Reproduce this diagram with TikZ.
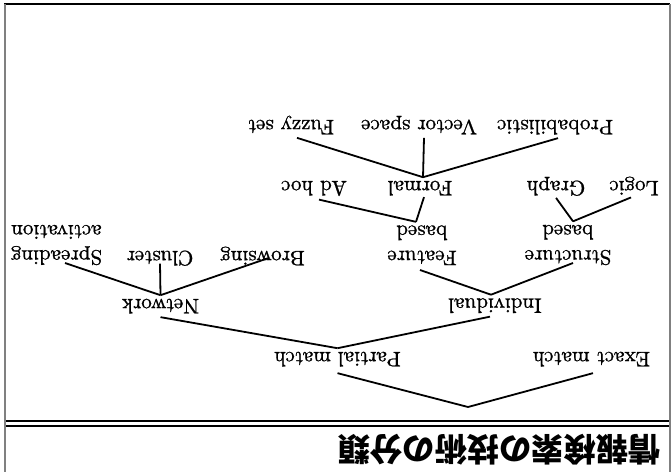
\documentclass[tikz,border=0pt]{standalone}
\usepackage{fontspec}
\newfontfamily\cjkfont{Noto Sans CJK JP}
\newfontfamily\lblfont{Latin Modern Roman}[FakeBold=1]
\begin{document}
\begin{tikzpicture}[x=1pt,y=-1pt,
  lbl/.style={rotate=180, scale=2.1, inner xsep=0pt, inner ysep=1.5pt, font=\normalsize\lblfont},
  lbltwo/.style={lbl, align=center},
  branch/.style={line width=1.8pt},
  framegray/.style={draw=gray, line width=2pt},
  frameblack/.style={draw=black, line width=1.4pt}]
\useasboundingbox (0,0) rectangle (671,472);
% frame
\path[frameblack] (4,4) -- (670,4);
\path[frameblack] (4,421) -- (670,421);
\path[frameblack] (4,426) -- (670,426);
\path[framegray] (4.5,4) -- (4.5,472);
\path[framegray] (669.5,4) -- (669.5,472);
% title
\node[rotate=180, anchor=west, inner sep=0pt,
  font=\fontsize{32.3}{38}\selectfont\cjkfont\bfseries] (ttl) at (661,450) {情報検索の技術の分類};
% labels
\node[lbl, anchor=base] (ex) at (591.5,352) {Exact match};
\node[lbl, anchor=base] (pm) at (337.5,352) {Partial match};
\node[lbl, anchor=base] (nw) at (160.5,299) {Network};
\node[lbl, anchor=base] (ind) at (495,298.5) {Individual};
\node[lbltwo, anchor=north] (spr) at (56.5,268.7) {Spreading\\activation};
\node[lbl, anchor=base] (clu) at (160,251) {Cluster};
\node[lbl, anchor=base] (bro) at (262.5,251) {Browsing};
\node[lbltwo, anchor=north] (fb) at (422,268.7) {Feature\\based};
\node[lbltwo, anchor=north] (sb) at (568,268.7) {Structure\\based};
\node[lbl, anchor=base] (adh) at (314,181) {Ad hoc};
\node[lbl, anchor=base] (frm) at (420,181) {Formal};
\node[lbl, anchor=base] (grp) at (556,181) {Graph};
\node[lbl, anchor=base] (lgc) at (634,181) {Logic};
\node[lbl, anchor=base] (fuz) at (291,120) {Fuzzy set};
\node[lbl, anchor=base] (vec) at (419,120) {Vector space};
\node[lbl, anchor=base] (prb) at (555,120) {Probabilistic};
\coordinate (root) at (468,407);
% branches
\draw[branch] (root) -- ([xshift=1.5pt,yshift=-3pt]ex.north);
\draw[branch] (root) -- ([yshift=-3pt]pm.north);
\draw[branch] (pm.south) -- (nw.north);
\draw[branch] (pm.south) -- ([xshift=-5pt]ind.north);
\draw[branch] (nw.south) -- ([xshift=8.5pt,yshift=5.7pt]spr.north);
\draw[branch] (nw.south) -- ([yshift=5.7pt]clu.north);
\draw[branch] (nw.south) -- ([xshift=5.5pt,yshift=10.7pt]bro.north);
\draw[branch] ([xshift=-4pt]ind.south) -- ([xshift=-2pt,yshift=-1.3pt]fb.north);
\draw[branch] ([xshift=-4pt]ind.south) -- ([xshift=5pt,yshift=5.7pt]sb.north);
\draw[branch] ([xshift=-6pt]fb.south) -- ([xshift=5pt]adh.north);
\draw[branch] ([xshift=-6pt]fb.south) -- ([xshift=4pt,yshift=2pt]frm.north);
\draw[branch] ([xshift=5pt]sb.south) -- ([yshift=1.5pt]grp.north);
\draw[branch] ([xshift=5pt]sb.south) -- ([xshift=-3pt,yshift=1.5pt]lgc.north);
\draw[branch] ([xshift=3pt]frm.south) -- ([xshift=6pt]fuz.north);
\draw[branch] ([xshift=3pt]frm.south) -- ([xshift=5pt]vec.north);
\draw[branch] ([xshift=3pt]frm.south) -- ([xshift=3pt]prb.north);
\end{tikzpicture}
\end{document}
